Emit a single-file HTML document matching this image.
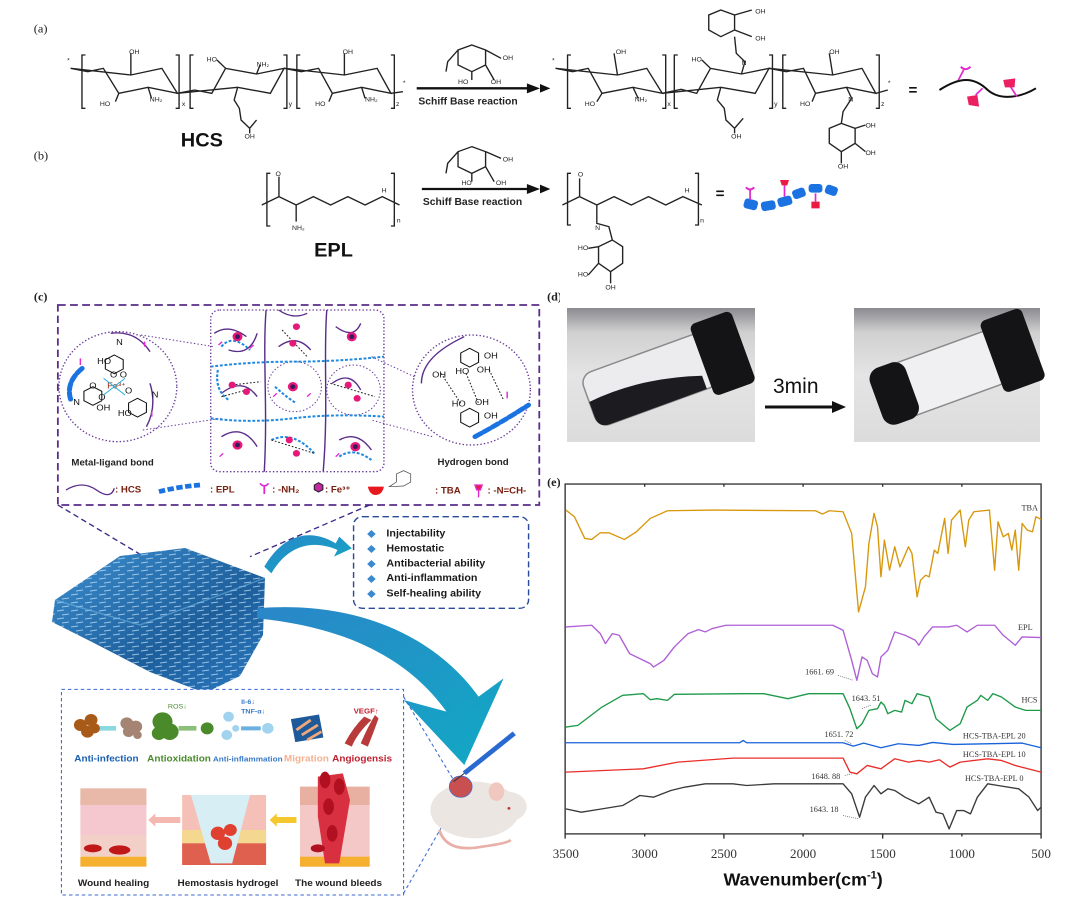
<!DOCTYPE html>
<html><head><meta charset="utf-8"><style>
html,body{margin:0;padding:0;background:#fff;}
svg{display:block;font-family:"Liberation Sans",sans-serif;}
</style></head><body>
<svg width="1080" height="907" viewBox="0 0 1080 907" xmlns="http://www.w3.org/2000/svg">
<defs>
<linearGradient id="gblob" x1="0" y1="0" x2="1" y2="1"><stop offset="0" stop-color="#3d8fd0"/><stop offset="0.6" stop-color="#1d5f9c"/><stop offset="1" stop-color="#2a79c0"/></linearGradient>
<linearGradient id="garrow" x1="0" y1="0" x2="1" y2="1"><stop offset="0" stop-color="#2a86c8"/><stop offset="1" stop-color="#11a9c4"/></linearGradient>
<linearGradient id="gbg" x1="0" y1="0" x2="0" y2="1"><stop offset="0" stop-color="#8a8a90"/><stop offset="0.18" stop-color="#d0d0d0"/><stop offset="0.5" stop-color="#e4e4e4"/><stop offset="1" stop-color="#dcdcdc"/></linearGradient>
<pattern id="ptex" width="14" height="8" patternUnits="userSpaceOnUse"><path d="M1 3 L8 2 M6 7 L13 6" stroke="#cfe6f7" stroke-width="1" opacity="0.7"/></pattern>
</defs>

<!-- ===== TOP LEFT (a)/(b) ===== -->
<svg x="0" y="0" width="540" height="290" viewBox="0 0 1568 870" preserveAspectRatio="none">
<g font-family="Liberation Serif,serif" font-size="36" fill="#222"><text x="98" y="97">(a)</text><text x="98" y="478">(b)</text></g>
<g fill="none" stroke="#222" stroke-width="4">
<path d="M248 165 H238 V325 H248 M510 165 H520 V325 H510 M562 165 H552 V325 H562 M823 165 H833 V325 H823 M872 165 H862 V325 H872 M1135 165 H1145 V325 H1135"/>
<path d="M205 205 L255 215 L300 205 L345 280 L430 262 L515 280 L470 205 L380 225 Z M380 225 L380 160 M345 280 L335 305 M430 262 L440 295"/>
<path d="M515 280 L565 270 L615 280 L655 205 L745 222 L825 205 L785 280 L690 262 Z M655 205 L630 180 M745 222 L755 195 M690 262 L680 300 L695 325 L700 360 L725 385 L745 360 M725 385 L725 400"/>
<path d="M825 205 L875 215 L925 205 L965 280 L1050 262 L1135 280 L1095 205 L1000 225 Z M1000 225 L1000 160 M965 280 L955 305 M1050 262 L1060 295 M1135 280 L1170 275"/>
<path d="M1370 135 L1410 150 L1410 195 L1370 215 L1330 195 L1330 150 Z M1330 150 L1300 185 L1295 215 M1410 150 L1455 175 M1370 215 L1370 240 M1410 195 L1435 240"/>
<path d="M1370 440 L1410 455 L1410 500 L1370 520 L1330 500 L1330 455 Z M1330 455 L1300 490 L1295 520 M1410 455 L1455 475 M1370 520 L1370 545 M1410 500 L1435 545"/>
<path d="M785 520 H775 V678 H785 M1135 520 H1145 V678 H1135"/>
<path d="M760 615 L810 590 L860 615 L910 590 L960 615 L1010 590 L1060 615 L1110 590 L1160 615 M810 590 L810 530 M860 615 L860 665"/>
</g>
<path d="M1210 265 H1540" stroke="#111" stroke-width="7"/><path d="M1530 250 L1568 265 L1530 280 Z" fill="#111"/>
<path d="M1225 567 H1540" stroke="#111" stroke-width="7"/><path d="M1530 552 L1568 567 L1530 582 Z" fill="#111"/>
<g font-weight="bold" font-size="30" fill="#222"><text x="1215" y="313">Schiff Base reaction</text><text x="1228" y="615">Schiff Base reaction</text></g>
<g font-size="20" fill="#222"><text x="375" y="162">OH</text><text x="290" y="318">HO</text><text x="435" y="305">NH₂</text><text x="600" y="185">HO</text><text x="745" y="200">NH₂</text><text x="710" y="415">OH</text><text x="995" y="162">OH</text><text x="915" y="318">HO</text><text x="1060" y="305">NH₂</text><text x="1460" y="180">OH</text><text x="1330" y="252">HO</text><text x="1425" y="252">OH</text><text x="1460" y="485">OH</text><text x="1340" y="555">HO</text><text x="1440" y="555">OH</text><text x="848" y="690">NH₂</text><text x="1108" y="578">H</text><text x="800" y="528">O</text><text x="195" y="188">*</text><text x="1170" y="255">*</text><text x="528" y="318">x</text><text x="838" y="318">y</text><text x="1150" y="318">z</text><text x="1152" y="668">n</text></g>
<g font-weight="bold" fill="#111"><text x="525" y="440" font-size="58">HCS</text><text x="912" y="770" font-size="58">EPL</text></g>
</svg>

<!-- ===== TOP RIGHT ===== -->
<svg x="540" y="0" width="540" height="290" viewBox="0 0 1568 870" preserveAspectRatio="none">
<path d="M0 252 L30 265 L0 278 Z M0 554 L30 567 L0 580 Z" fill="#111"/>
<g fill="none" stroke="#222" stroke-width="4">
<path d="M90 165 H80 V325 H90 M355 165 H365 V325 H355 M400 165 H390 V325 H400 M665 165 H675 V325 H665 M715 165 H705 V325 H715 M975 165 H985 V325 H975"/>
<path d="M45 205 L95 215 L140 205 L180 280 L270 262 L355 280 L310 205 L225 225 Z M225 225 L215 160 M180 280 L165 305 M270 262 L285 295"/>
<path d="M355 280 L410 268 L455 280 L495 205 L585 222 L665 205 L625 280 L525 262 Z M495 205 L470 180 M585 222 L595 185 L570 160 L565 110 M525 262 L515 300 L535 325 L540 360 L565 385 L590 355 M565 385 L565 400"/>
<path d="M525 30 L565 45 L565 90 L525 110 L490 90 L490 45 Z M565 45 L615 30 M565 90 L615 110"/>
<path d="M665 205 L715 215 L765 205 L800 280 L890 262 L975 280 L935 205 L850 225 Z M850 225 L840 160 M800 280 L790 305 M890 262 L905 295 L880 335 L875 370 M975 280 L1010 270"/>
<path d="M875 370 L915 385 L915 430 L875 455 L840 430 L840 385 Z M915 385 L945 375 M915 430 L945 455 M875 455 L875 490"/>
<path d="M90 520 H80 V675 H90 M450 520 H460 V675 H450"/>
<path d="M65 615 L115 590 L165 615 L215 590 L265 615 L315 590 L365 615 L415 590 L470 615 M115 590 L115 535 M165 615 L165 670 L200 680 L210 720"/>
<path d="M210 720 L240 740 L240 790 L205 815 L170 790 L170 740 Z M170 740 L140 745 M170 790 L140 825 M205 815 L205 850"/>
</g>
<g font-size="20" fill="#222"><text x="625" y="40">OH</text><text x="625" y="122">OH</text><text x="220" y="162">OH</text><text x="130" y="318">HO</text><text x="275" y="305">NH₂</text><text x="440" y="185">HO</text><text x="585" y="195">N</text><text x="555" y="415">OH</text><text x="840" y="162">OH</text><text x="755" y="318">HO</text><text x="895" y="305">N</text><text x="945" y="382">OH</text><text x="945" y="465">OH</text><text x="865" y="505">OH</text><text x="420" y="578">H</text><text x="110" y="530">O</text><text x="160" y="690">N</text><text x="110" y="750">HO</text><text x="110" y="830">HO</text><text x="190" y="868">OH</text><text x="35" y="188">*</text><text x="1010" y="255">*</text><text x="370" y="318">x</text><text x="680" y="318">y</text><text x="990" y="318">z</text><text x="465" y="668">n</text></g>
<g font-weight="bold" font-size="44" fill="#111"><text x="1070" y="285">=</text><text x="510" y="595">=</text></g>
<path d="M1160 270 C1220 230 1260 230 1300 270 C1340 305 1400 290 1440 265" fill="none" stroke="#111" stroke-width="6"/>
<g stroke="#e02ad0" stroke-width="5"><path d="M1215 240 L1230 210 M1265 285 L1285 265 M1360 250 L1385 290"/></g>
<path d="M1222 200 Q1235 215 1250 200" stroke="#e02ad0" stroke-width="6" fill="none"/>
<g fill="#ea2060"><path d="M1240 290 L1270 285 L1275 320 L1245 315 Z"/><path d="M1345 240 L1380 235 L1378 262 L1350 262 Z"/></g>
<g fill="#1a73e0"><rect x="592" y="598" width="40" height="30" rx="9" transform="rotate(15 612 613)"/><rect x="642" y="603" width="42" height="28" rx="9" transform="rotate(-10 663 617)"/><rect x="690" y="590" width="42" height="28" rx="9" transform="rotate(-15 711 604)"/><rect x="733" y="566" width="38" height="28" rx="9" transform="rotate(-20 752 580)"/><rect x="780" y="552" width="40" height="26" rx="9"/><rect x="828" y="557" width="36" height="28" rx="9" transform="rotate(20 846 571)"/></g>
<g stroke="#e02ad0" stroke-width="5"><path d="M610 600 L610 565 M710 590 L710 550 M800 580 L800 605"/></g>
<path d="M598 562 Q610 575 622 562" stroke="#e02ad0" stroke-width="6" fill="none"/>
<path d="M697 540 H723 L718 556 H702 Z M788 605 H812 V625 H788 Z" fill="#ea1a40"/>
</svg>

<!-- ===== PANEL C ===== -->
<svg x="0" y="290" width="560" height="330" viewBox="0 0 1568 990" preserveAspectRatio="none">
<text x="95" y="32" font-family="Liberation Serif,serif" font-size="34" font-weight="bold" fill="#222">(c)</text>
<text x="1532" y="32" font-family="Liberation Serif,serif" font-size="34" font-weight="bold" fill="#222">(d)</text>
<text x="1532" y="588" font-family="Liberation Serif,serif" font-size="34" font-weight="bold" fill="#222">(e)</text>
<rect x="162" y="45" width="1348" height="600" fill="none" stroke="#5a2d8a" stroke-width="5" stroke-dasharray="22 12"/>
<rect x="590" y="60" width="485" height="485" rx="25" fill="none" stroke="#6a3a9a" stroke-width="4" stroke-dasharray="4 6"/>
<circle cx="330" cy="290" r="165" fill="none" stroke="#6a3a9a" stroke-width="4" stroke-dasharray="4 6"/>
<circle cx="1320" cy="300" r="165" fill="none" stroke="#6a3a9a" stroke-width="4" stroke-dasharray="4 6"/>
<circle cx="825" cy="290" r="75" fill="none" stroke="#6a3a9a" stroke-width="3" stroke-dasharray="4 6"/>
<circle cx="990" cy="300" r="75" fill="none" stroke="#6a3a9a" stroke-width="3" stroke-dasharray="4 6"/>
<path d="M395 135 L600 170 M400 420 L620 385 M1160 260 L1040 200 M1210 440 L1040 390" stroke="#6a3a9a" stroke-width="3" stroke-dasharray="4 6"/>
<g fill="none" stroke="#5a2d8a" stroke-width="4">
<path d="M745 60 C735 200 750 350 740 545 M915 60 C905 200 920 350 905 545"/>
<path d="M600 130 Q640 100 690 140 M640 180 Q700 200 720 130 M780 60 Q820 90 860 70 M780 170 Q830 130 870 180 M940 110 Q990 150 1010 100 M620 310 Q680 260 720 320 M930 280 Q980 240 1010 300 M620 440 Q680 400 720 470 M950 450 Q1000 420 1040 480 M310 130 Q380 120 420 185 M420 280 Q440 350 410 410 M1180 280 Q1180 200 1300 140"/>
</g>
<g fill="none" stroke="#1d8ae0" stroke-width="6" stroke-dasharray="8 5">
<path d="M590 230 Q700 215 820 215 T1075 200 M590 385 Q700 400 820 385 T1075 380 M610 240 Q600 300 640 330 M770 290 Q800 320 830 340 M760 450 Q820 420 880 490 M950 500 Q990 470 1040 510 M620 170 Q650 130 700 180"/>
</g>
<g fill="none" stroke="#1a73e0" stroke-width="14" stroke-dasharray="20 8" stroke-linecap="round"><path d="M230 235 Q180 280 200 335 M1330 440 Q1400 400 1480 345"/></g>
<g stroke="#222" stroke-width="3" stroke-dasharray="5 5"><path d="M790 120 L860 200 M650 285 L730 275 M620 320 L690 300 M925 280 L1050 320 M760 450 L880 490 M1235 250 L1290 340 M1305 250 L1340 340 M1370 240 L1410 330"/></g>
<g fill="#e6197a"><circle cx="665" cy="140" r="14"/><circle cx="830" cy="110" r="10"/><circle cx="820" cy="160" r="10"/><circle cx="985" cy="140" r="14"/><circle cx="650" cy="285" r="10"/><circle cx="690" cy="305" r="10"/><circle cx="820" cy="290" r="14"/><circle cx="975" cy="285" r="10"/><circle cx="1000" cy="325" r="10"/><circle cx="665" cy="465" r="14"/><circle cx="810" cy="450" r="10"/><circle cx="830" cy="490" r="10"/><circle cx="995" cy="470" r="14"/></g>
<g fill="#3a1a5a"><circle cx="665" cy="140" r="7"/><circle cx="985" cy="140" r="7"/><circle cx="820" cy="290" r="7"/><circle cx="665" cy="465" r="7"/><circle cx="995" cy="470" r="7"/></g>
<g stroke="#e02ad0" stroke-width="4" fill="none"><path d="M612 165 l10 -10 M700 175 l10 -10 M615 500 l10 -10 M940 500 l10 -10 M765 320 l10 -10 M860 320 l10 -10 M1420 325 l0 -20 M225 225 l0 -20 M405 170 l0 -15 M425 380 l0 -15"/></g>
<g font-size="26" fill="#111"><text x="272" y="222">HO</text><text x="325" y="165">N</text><text x="308" y="262">O  O</text><text x="300" y="295" fill="#8a2a10">Fe³⁺</text><text x="250" y="295">O</text><text x="275" y="330">O</text><text x="350" y="310">O</text><text x="205" y="345">N</text><text x="270" y="362">OH</text><text x="330" y="378">HO</text><text x="425" y="322">N</text><text x="1355" y="205">OH</text><text x="1210" y="262">OH</text><text x="1275" y="252">HO</text><text x="1335" y="248">OH</text><text x="1265" y="350">HO</text><text x="1330" y="345">OH</text><text x="1355" y="385">OH</text></g>
<g fill="none" stroke="#111" stroke-width="3"><path d="M320 195 l25 14 v28 l-25 14 l-25 -14 v-28 Z M260 290 l25 14 v28 l-25 14 l-25 -14 v-28 Z M385 325 l25 14 v28 l-25 14 l-25 -14 v-28 Z M1315 175 l25 14 v28 l-25 14 l-25 -14 v-28 Z M1315 355 l25 14 v28 l-25 14 l-25 -14 v-28 Z"/></g>
<g stroke="#2ab0e0" stroke-width="3"><path d="M320 290 L290 265 M320 290 L350 265 M320 290 L290 315 M320 290 L350 315"/></g>
<g font-weight="bold" font-size="27" fill="#222"><text x="200" y="527">Metal-ligand bond</text><text x="1225" y="525">Hydrogen bond</text></g>
<path d="M185 600 Q230 570 270 600 T320 595" stroke="#5a2d8a" stroke-width="4" fill="none"/>
<path d="M445 605 Q500 590 560 585" stroke="#1a73e0" stroke-width="14" stroke-dasharray="18 7" fill="none"/>
<path d="M740 612 V585 M728 580 Q740 595 752 580" stroke="#e02ad0" stroke-width="5" fill="none"/>
<path d="M880 585 l12 -7 l12 7 v14 l-12 7 l-12 -7 Z" fill="#c02aa0" stroke="#222" stroke-width="3"/>
<path d="M1030 590 H1075 Q1070 615 1052 615 Q1035 615 1030 590 Z" fill="#e8191e"/>
<path d="M1330 585 H1350 L1345 600 H1335 Z M1340 600 V622" stroke="#e02ad0" stroke-width="4" fill="#ea1a40"/>
<g font-weight="bold" font-size="27" fill="#7a2010"><text x="322" y="607">: HCS</text><text x="588" y="607">: EPL</text><text x="762" y="607">: -NH₂</text><text x="910" y="607">: Fe³⁺</text><text x="1218" y="610">: TBA</text><text x="1365" y="610">: -N=CH-</text></g>
<path d="M1090 590 l20 -14 v-24 l20 -10 l20 10 v24 l-20 12 Z" fill="none" stroke="#444" stroke-width="2"/>
<path d="M162 645 L450 830 M1035 645 L700 800" stroke="#3a2a8a" stroke-width="4" stroke-dasharray="16 10"/>
<rect x="990" y="680" width="490" height="275" rx="25" fill="#fff" stroke="#2a4a9a" stroke-width="4" stroke-dasharray="18 10"/>
<g fill="#3a8ad0"><path d="M1040 720 l12 12 l-12 12 l-12 -12 Z M1040 765 l12 12 l-12 12 l-12 -12 Z M1040 810 l12 12 l-12 12 l-12 -12 Z M1040 855 l12 12 l-12 12 l-12 -12 Z M1040 900 l12 12 l-12 12 l-12 -12 Z"/></g>
<g font-weight="bold" font-size="30" fill="#1a1a1a"><text x="1082" y="740">Injectability</text><text x="1082" y="785">Hemostatic</text><text x="1082" y="830">Antibacterial ability</text><text x="1082" y="873">Anti-inflammation</text><text x="1082" y="920">Self-healing ability</text></g>
<path d="M740 830 C800 720 880 720 940 760 L950 740 L985 775 L935 800 L945 780 C880 750 810 760 760 850 Z" fill="url(#garrow)"/>
</svg>

<!-- hydrogel blob -->
<g>
<path d="M55 600 L120 556 L185 548 L265 578 L263 635 L240 676 L205 693 L150 672 L92 642 L52 622 Z" fill="url(#gblob)"/>
<path d="M55 600 L120 556 L185 548 L265 578 L263 635 L240 676 L205 693 L150 672 L92 642 L52 622 Z" fill="url(#ptex)"/>
<path d="M55 600 L140 625 L265 578" fill="none" stroke="#6ab0e0" stroke-width="1.5" opacity="0.6"/>
</g>

<!-- ===== BOTTOM LEFT ===== -->
<svg x="0" y="600" width="560" height="307" viewBox="0 0 1568 921" preserveAspectRatio="none">
<path d="M720 25 C1000 0 1220 110 1340 290 L1410 235 L1300 495 L1130 300 L1250 335 C1140 170 960 80 720 55 Z" fill="url(#garrow)"/>
<rect x="172" y="268" width="958" height="617" fill="#fff" stroke="#3a6ad0" stroke-width="3" stroke-dasharray="10 8"/>
<path d="M1130 290 L1270 540 M1130 880 L1280 600" stroke="#3a6ad0" stroke-width="3" stroke-dasharray="10 8"/>
<g fill="#a85a18"><circle cx="225" cy="375" r="18"/><circle cx="255" cy="360" r="18"/><circle cx="245" cy="395" r="18"/><circle cx="265" cy="385" r="15"/></g>
<path d="M280 385 H325" stroke="#8ad8e0" stroke-width="14"/>
<g fill="#a58474"><circle cx="355" cy="370" r="18"/><circle cx="380" cy="380" r="18"/><circle cx="360" cy="395" r="16"/><circle cx="385" cy="405" r="12"/></g>
<g fill="#4a8a2a"><circle cx="455" cy="365" r="28"/><circle cx="475" cy="395" r="25"/><circle cx="445" cy="400" r="20"/><circle cx="580" cy="385" r="18"/></g>
<path d="M500 385 H550" stroke="#8ac07a" stroke-width="14"/>
<g fill="#7ac0e8" opacity="0.7"><circle cx="640" cy="350" r="15"/><circle cx="635" cy="405" r="15"/><circle cx="660" cy="385" r="10"/><circle cx="750" cy="385" r="16"/></g>
<path d="M675 385 H730" stroke="#6ab0e0" stroke-width="12"/>
<rect x="820" y="350" width="80" height="70" fill="#1e5a9a" transform="rotate(-10 860 385)"/>
<g stroke="#f0a878" stroke-width="8"><path d="M830 390 L870 360 M845 405 L890 375 M860 420 L900 395"/></g>
<path d="M965 430 Q990 380 1020 350 L1040 360 Q1000 400 985 440 Z M1010 430 Q1030 380 1050 345 L1060 355 Q1045 400 1030 440 Z" fill="#b83a3a"/>
<text x="470" y="325" font-size="20" fill="#4a8a2a">ROS↓</text>
<text x="675" y="312" font-size="20" font-weight="bold" fill="#3a7ac8">Il-6↓</text><text x="675" y="340" font-size="20" font-weight="bold" fill="#3a7ac8">TNF-α↓</text>
<text x="990" y="340" font-size="22" font-weight="bold" fill="#c02030">VEGF↑</text>
<g font-weight="bold" font-size="28"><text x="208" y="485" fill="#1a5fb0">Anti-infection</text><text x="412" y="485" fill="#4a8a2a">Antioxidation</text><text x="596" y="485" font-size="23" fill="#3a7ac8">Anti-inflammation</text><text x="795" y="485" fill="#f5b090">Migration</text><text x="930" y="485" fill="#c02030">Angiogensis</text></g>
<g>
<rect x="225" y="595" width="185" height="110" fill="#f5c8cf"/><rect x="225" y="565" width="185" height="50" fill="#e8b8a8"/><rect x="225" y="705" width="185" height="65" fill="#f2d0c8"/><rect x="225" y="770" width="185" height="30" fill="#f5b030"/>
<ellipse cx="260" cy="745" rx="25" ry="12" fill="#c01818"/><ellipse cx="335" cy="750" rx="30" ry="14" fill="#c01818"/>
<rect x="510" y="585" width="235" height="210" fill="#f5c0b8"/><rect x="510" y="690" width="235" height="40" fill="#f5d890"/><rect x="510" y="730" width="235" height="65" fill="#e06050"/>
<path d="M535 585 L700 585 L650 790 L590 790 Z" fill="#d8eef5"/>
<g fill="#e04030"><circle cx="610" cy="700" r="20"/><circle cx="645" cy="690" r="18"/><circle cx="630" cy="730" r="20"/></g>
<rect x="840" y="560" width="195" height="240" fill="#f5c8c8"/><rect x="840" y="560" width="195" height="55" fill="#e8b0a0"/><rect x="840" y="770" width="195" height="30" fill="#f5b030"/>
<path d="M890 530 L960 520 L980 600 L950 790 L910 790 L890 650 Z" fill="#d83040"/>
<g fill="#b01020"><ellipse cx="910" cy="540" rx="15" ry="25"/><ellipse cx="950" cy="560" rx="15" ry="25"/><ellipse cx="920" cy="620" rx="15" ry="25"/><ellipse cx="930" cy="700" rx="15" ry="25"/><ellipse cx="890" cy="745" rx="20" ry="12"/></g>
<path d="M505 660 H430" stroke="#f5b8b0" stroke-width="18"/><path d="M435 640 L415 660 L435 680 Z" fill="#f5b8b0"/>
<path d="M830 660 H770" stroke="#f5c830" stroke-width="18"/><path d="M775 640 L755 660 L775 680 Z" fill="#f5c830"/>
</g>
<g font-weight="bold" font-size="28" fill="#222"><text x="218" y="858">Wound healing</text><text x="497" y="858">Hemostasis hydrogel</text><text x="826" y="858">The wound bleeds</text></g>
<ellipse cx="1330" cy="630" rx="125" ry="85" fill="#ece6e3"/><ellipse cx="1420" cy="620" rx="55" ry="45" fill="#ece6e3"/>
<ellipse cx="1390" cy="575" rx="22" ry="28" fill="#f0c8c0"/><circle cx="1425" cy="625" r="4" fill="#c03030"/>
<path d="M1230 690 Q1250 760 1350 740 Q1420 730 1430 720" fill="none" stroke="#e8b0a8" stroke-width="8"/>
<circle cx="1290" cy="560" r="32" fill="#c85050" stroke="#3a6ad0" stroke-width="2"/>
<path d="M1300 520 L1440 400" stroke="#2a6ad0" stroke-width="14"/><path d="M1300 520 L1270 545" stroke="#333" stroke-width="3"/>
</svg>

<!-- ===== PANEL D photos ===== -->
<g>
<rect x="567" y="308" width="188" height="134" fill="url(#gbg)"/>
<g transform="rotate(-20 655 378)">
<rect x="585" y="350" width="130" height="56" rx="12" fill="#ececee" stroke="#8a8a8a" stroke-width="1.5"/>
<path d="M585 378 Q640 372 700 392 L700 406 L597 406 Q585 406 585 394 Z" fill="#1c1c20"/>
<rect x="705" y="340" width="44" height="76" rx="6" fill="#141416"/>
</g>
<rect x="854" y="308" width="186" height="134" fill="url(#gbg)"/>
<g transform="rotate(-20 945 375)">
<rect x="875" y="347" width="130" height="56" rx="12" fill="#f0f0f2" stroke="#8a8a8a" stroke-width="1.5"/>
<rect x="872" y="345" width="38" height="60" rx="12" fill="#141416"/>
<rect x="995" y="337" width="44" height="76" rx="6" fill="#141416"/>
</g>
<text x="773" y="393" font-size="21" fill="#111">3min</text>
<path d="M765 407 H835" stroke="#111" stroke-width="3"/><path d="M832 401 L846 407 L832 413 Z" fill="#111"/>
</g>

<!-- ===== PANEL E plot ===== -->
<svg x="540" y="460" width="540" height="447" viewBox="0 0 1568 1339" preserveAspectRatio="none">
<rect x="73" y="72" width="1382" height="1048" fill="none" stroke="#333" stroke-width="4"/>
<g stroke="#333" stroke-width="4"><path d="M73 1120 v14 M304 1120 v8 M534 1120 v14 M764 1120 v8 M995 1120 v14 M1225 1120 v8 M1455 1120 v14 M304 72 v8 M534 72 v8 M764 72 v8 M995 72 v8 M1225 72 v8"/></g>
<g fill="none" stroke-width="4" stroke-linejoin="round">
<polyline stroke="#d8970c" points="75,150 100,170 130,235 150,238 175,218 200,218 245,238 280,215 320,175 370,152 500,150 800,152 820,162 840,152 880,155 905,220 925,455 945,380 955,250 970,160 980,200 990,350 1000,240 1015,330 1030,260 1045,320 1070,260 1080,280 1095,410 1105,360 1120,345 1130,350 1145,270 1155,280 1175,175 1185,280 1195,180 1220,150 1235,260 1245,180 1260,155 1305,150 1320,330 1330,185 1345,230 1360,220 1370,270 1380,210 1390,330 1400,190 1415,210 1430,215 1440,170 1455,178"/>
<polyline stroke="#b060d6" points="75,500 150,495 175,520 190,550 210,520 230,525 260,580 290,595 320,610 330,620 360,600 390,560 430,520 460,508 480,515 500,505 540,495 850,495 880,510 905,600 920,660 935,590 950,600 965,640 980,650 990,590 1010,570 1030,515 1060,525 1090,540 1100,555 1115,530 1140,500 1185,500 1210,495 1240,515 1270,495 1320,495 1345,525 1380,555 1400,530 1455,532"/>
<polyline stroke="#1f9a4a" points="75,800 110,795 180,740 240,705 300,700 320,718 340,715 370,720 390,702 590,700 650,700 720,715 780,700 880,700 900,745 920,805 935,790 955,750 980,745 990,725 1000,735 1010,760 1030,750 1050,755 1060,720 1080,730 1095,700 1130,710 1150,775 1190,810 1220,790 1240,740 1270,720 1280,705 1300,720 1315,700 1340,710 1380,740 1410,750 1455,750"/>
<polyline stroke="#1a62d8" points="75,847 580,847 590,840 600,847 880,847 910,857 940,848 990,862 1040,850 1100,855 1140,846 1200,852 1400,848 1455,862"/>
<polyline stroke="#ea2e2a" points="75,935 300,925 400,905 560,893 880,893 900,935 920,940 950,915 990,925 1030,895 1070,905 1100,900 1130,905 1160,898 1190,920 1220,905 1300,895 1340,900 1380,915 1455,935"/>
<polyline stroke="#3a3a3a" points="75,1045 120,1055 180,1045 240,1035 290,1005 330,1010 380,990 420,980 480,970 560,970 600,975 680,970 880,970 905,1000 928,1070 945,1010 970,975 990,1000 1010,985 1030,990 1060,1010 1100,1030 1130,1010 1150,1055 1170,1060 1188,1105 1210,1050 1230,1050 1250,1060 1270,1010 1300,970 1330,975 1390,985 1420,1010 1445,1050 1455,1040"/>
</g>
<g stroke="#555" stroke-width="2" stroke-dasharray="3 3"><path d="M865 645 L910 660 M960 735 L935 745 M885 840 L905 850 M885 945 L905 940 M880 1065 L925 1075"/></g>
<g font-family="Liberation Serif,serif" font-size="24" fill="#333"><text x="1398" y="152">TBA</text><text x="1388" y="510">EPL</text><text x="1398" y="727">HCS</text><text x="1228" y="835">HCS-TBA-EPL 20</text><text x="1228" y="890">HCS-TBA-EPL 10</text><text x="1234" y="962">HCS-TBA-EPL 0</text><text x="770" y="642">1661. 69</text><text x="905" y="722">1643. 51</text><text x="826" y="830">1651. 72</text><text x="788" y="955">1648. 88</text><text x="783" y="1054">1643. 18</text></g>
<g font-family="Liberation Serif,serif" font-size="38" fill="#333" text-anchor="middle"><text x="75" y="1192">3500</text><text x="304" y="1192">3000</text><text x="534" y="1192">2500</text><text x="764" y="1192">2000</text><text x="995" y="1192">1500</text><text x="1225" y="1192">1000</text><text x="1455" y="1192">500</text></g>
<text x="764" y="1275" text-anchor="middle" font-weight="bold" font-size="52" fill="#111">Wavenumber(cm<tspan font-size="32" dy="-22">-1</tspan><tspan dy="22">)</tspan></text>
</svg>
</svg>
</body></html>
